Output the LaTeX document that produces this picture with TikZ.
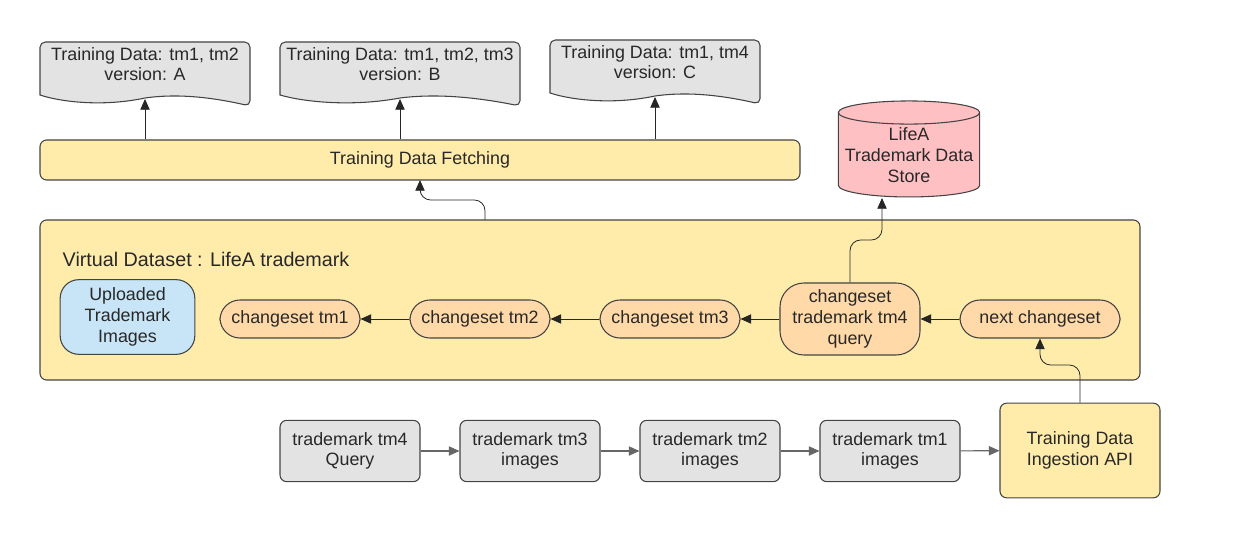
\documentclass[tikz,border=0pt]{standalone}
\usepackage{fontspec}
\setmainfont{Liberation Sans}
\usetikzlibrary{arrows.meta,shapes.geometric}
\definecolor{yel}{RGB}{255,236,170}
\definecolor{gr}{RGB}{227,227,227}
\definecolor{pk}{RGB}{255,192,196}
\definecolor{bl}{RGB}{199,229,247}
\definecolor{org}{RGB}{255,218,168}
\definecolor{ln}{RGB}{68,68,68}
\definecolor{txt}{RGB}{40,40,40}
\begin{document}
\begin{tikzpicture}[x=0.75pt,y=-0.75pt,
  every node/.style={font=\fontsize{13.4}{15.5}\selectfont,text=txt,align=center},
  box/.style={draw=ln,line width=0.8pt,rounded corners=5pt,inner sep=0pt},
  pill/.style={draw=ln,line width=0.8pt,fill=org,rounded corners=15pt,inner sep=0pt,minimum height=28.5pt},
  doctext/.style={inner sep=0pt},
  arr/.style={-{Triangle[length=8pt,width=7pt]},line width=0.6pt,draw=black!85},
  garr/.style={-{Triangle[length=8pt,width=7pt]},line width=0.8pt,draw=gray!80!black,fill=gray!80!black},
  el/.style={arr,rounded corners=8pt}]
\useasboundingbox (0,0) rectangle (1234,538);
\newcommand\mydoc[3]{% x1 x2 y1
  \fill[gr,draw=ln,line width=0.8pt,rounded corners=4pt] ({#1},{#3+53}) -- ({#1},{#3}) -- ({#2},{#3}) -- ({#2},{#3+64})[sharp corners]
   .. controls ({#2-0.25*(#2-#1)},{#3+52}) and ({#1+0.6*(#2-#1)},{#3+53}) .. ({#1+0.5*(#2-#1)},{#3+56})
   .. controls ({#1+0.3*(#2-#1)},{#3+65}) and ({#1+0.1*(#2-#1)},{#3+60}) .. ({#1},{#3+53}) -- cycle;}
\mydoc{40}{250}{42}
\node[doctext] (d1) at (145,64) {Training Data: tm1, tm2\\version: A};
\mydoc{280}{520}{42}
\node[doctext] (d2) at (400,64) {Training Data: tm1, tm2, tm3\\version: B};
\mydoc{550}{760}{40}
\node[doctext] (d3) at (655,62) {Training Data: tm1, tm4\\version: C};
\coordinate (d1b) at (145,99);
\coordinate (d2b) at (400,99);
\coordinate (d3b) at (655,97);
% fetching
\node[box,fill=yel,minimum width=570pt,minimum height=30pt] (fetch) at (420,160) {Training Data Fetching};
\draw[arr] (fetch.north -| d1b) -- (d1b);
\draw[arr] (fetch.north -| d2b) -- (d2b);
\draw[arr] (fetch.north -| d3b) -- (d3b);
% cylinder
\node[cylinder,shape border rotate=90,aspect=0.18,draw=ln,line width=0.8pt,fill=pk,minimum width=106pt,minimum height=72pt,inner sep=0pt] (store) at (909,155) {LifeA\\Trademark Data\\Store};
% virtual dataset
\node[box,fill=yel,minimum width=825pt,minimum height=120pt] (vd) at (590,300) {};
\node[anchor=west] (vdl) at (58,259) {\fontsize{14.8}{17}\selectfont Virtual Dataset : LifeA trademark};
\node[box,fill=bl,rounded corners=14pt,minimum width=101pt,minimum height=56pt] (up) at (127.5,317) {Uploaded\\Trademark\\Images};
\node[pill,minimum width=105pt] (c1) at (290,319) {changeset tm1};
\node[pill,minimum width=105pt] (c2) at (480,319) {changeset tm2};
\node[pill,minimum width=105pt] (c3) at (670,319) {changeset tm3};
\node[pill,rounded corners=18pt,minimum width=105pt,minimum height=54pt] (c4) at (850,319) {changeset\\trademark tm4\\query};
\node[pill,minimum width=120pt] (cn) at (1040,319) {next changeset};
\draw[arr] (cn) -- (c4);
\draw[arr] (c4) -- (c3);
\draw[arr] (c3) -- (c2);
\draw[arr] (c2) -- (c1);
\coordinate (vdt) at (485,220);
\coordinate (ft) at (420,180);
\draw[el] (vdt) |- (420,200) -- (ft);
\coordinate (st) at (882,198);
\draw[el] (c4.north) |- (882,240) -- (st);
% ingestion
\node[box,fill=yel,minimum width=120pt,minimum height=71pt] (api) at (1080,450.5) {Training Data\\Ingestion API};
\draw[el] (api.north) |- (1040,365) -- (cn.south);
% gray boxes
\node[box,fill=gr,minimum width=105pt,minimum height=46pt] (g4) at (350,451) {trademark tm4\\Query};
\node[box,fill=gr,minimum width=105pt,minimum height=46pt] (g3) at (530,451) {trademark tm3\\images};
\node[box,fill=gr,minimum width=105pt,minimum height=46pt] (g2) at (710,451) {trademark tm2\\images};
\node[box,fill=gr,minimum width=105pt,minimum height=46pt] (g1) at (890,451) {trademark tm1\\images};
\draw[garr] (g4) -- (g3);
\draw[garr] (g3) -- (g2);
\draw[garr] (g2) -- (g1);
\draw[garr] (g1) -- (api);
\end{tikzpicture}
\end{document}
